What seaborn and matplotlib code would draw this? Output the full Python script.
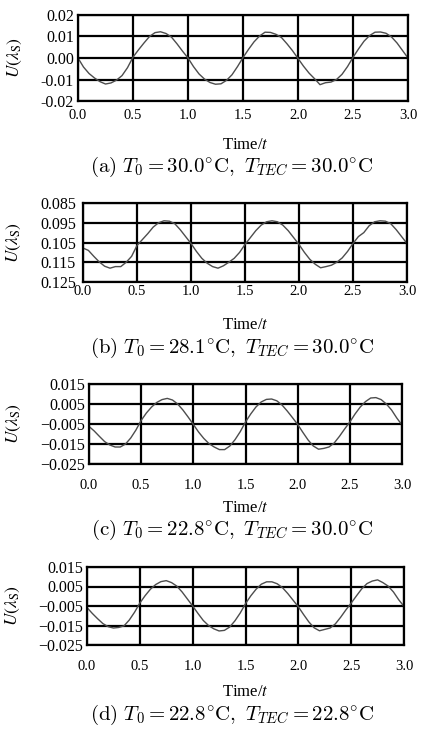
import matplotlib
matplotlib.use("Agg")
import matplotlib.pyplot as plt
import seaborn as sns
import pandas as pd

# ---------------- data ----------------
time = [0.00, 0.05, 0.10, 0.15, 0.20, 0.25, 0.30, 0.35, 0.40, 0.45,
        0.50, 0.55, 0.60, 0.65, 0.70, 0.75, 0.80, 0.85, 0.90, 0.95,
        1.00, 1.05, 1.10, 1.15, 1.20, 1.25, 1.30, 1.35, 1.40, 1.45,
        1.50, 1.55, 1.60, 1.65, 1.70, 1.75, 1.80, 1.85, 1.90, 1.95,
        2.00, 2.05, 2.10, 2.15, 2.20, 2.25, 2.30, 2.35, 2.40, 2.45,
        2.50, 2.55, 2.60, 2.65, 2.70, 2.75, 2.80, 2.85, 2.90, 2.95,
        3.00]

u_a = [0.0000, -0.0042, -0.0072, -0.0093, -0.0110, -0.0121, -0.0116, -0.0103, -0.0082, -0.0045,
       0.0004, 0.0038, 0.0070, 0.0100, 0.0118, 0.0122, 0.0114, 0.0097, 0.0066, 0.0032,
       0.0000, -0.0040, -0.0074, -0.0098, -0.0114, -0.0122, -0.0120, -0.0104, -0.0078, -0.0040,
       0.0002, 0.0040, 0.0075, 0.0102, 0.0120, 0.0119, 0.0110, 0.0095, 0.0066, 0.0034,
       -0.0002, -0.0038, -0.0070, -0.0096, -0.0124, -0.0115, -0.0112, -0.0100, -0.0076, -0.0040,
       0.0003, 0.0042, 0.0078, 0.0104, 0.0120, 0.0121, 0.0115, 0.0098, 0.0070, 0.0035,
       0.0000]

u_b = [0.1078, 0.1090, 0.1120, 0.1148, 0.1170, 0.1180, 0.1172, 0.1172, 0.1150, 0.1120,
       0.1065, 0.1035, 0.1005, 0.0972, 0.0950, 0.0940, 0.0942, 0.0955, 0.0985, 0.1020,
       0.1055, 0.1095, 0.1130, 0.1155, 0.1172, 0.1180, 0.1168, 0.1150, 0.1130, 0.1100,
       0.1060, 0.1025, 0.0990, 0.0962, 0.0945, 0.0940, 0.0945, 0.0962, 0.0990, 0.1025,
       0.1060, 0.1100, 0.1135, 0.1160, 0.1178, 0.1172, 0.1165, 0.1150, 0.1128, 0.1095,
       0.1055, 0.1020, 0.1000, 0.0965, 0.0945, 0.0940, 0.0942, 0.0955, 0.0985, 0.1020,
       0.1055]

u_c = [-0.0062, -0.0085, -0.0112, -0.0138, -0.0155, -0.0165, -0.0165, -0.0150, -0.0120, -0.0080,
       -0.0032, 0.0005, 0.0035, 0.0058, 0.0072, 0.0078, 0.0070, 0.0050, 0.0020, -0.0015,
       -0.0052, -0.0090, -0.0122, -0.0148, -0.0165, -0.0178, -0.0178, -0.0160, -0.0128, -0.0088,
       -0.0040, 0.0000, 0.0035, 0.0060, 0.0073, 0.0075, 0.0066, 0.0045, 0.0015, -0.0018,
       -0.0052, -0.0092, -0.0130, -0.0160, -0.0176, -0.0172, -0.0165, -0.0145, -0.0112, -0.0075,
       -0.0040, 0.0000, 0.0035, 0.0062, 0.0080, 0.0082, 0.0072, 0.0050, 0.0020, -0.0020,
       -0.0055]

u_d = [-0.0058, -0.0088, -0.0115, -0.0140, -0.0156, -0.0163, -0.0160, -0.0152, -0.0122, -0.0082,
       -0.0035, 0.0003, 0.0036, 0.0060, 0.0075, 0.0080, 0.0070, 0.0052, 0.0022, -0.0014,
       -0.0050, -0.0088, -0.0124, -0.0150, -0.0167, -0.0178, -0.0175, -0.0158, -0.0126, -0.0086,
       -0.0038, 0.0002, 0.0036, 0.0062, 0.0074, 0.0074, 0.0064, 0.0044, 0.0014, -0.0020,
       -0.0054, -0.0094, -0.0132, -0.0162, -0.0177, -0.0170, -0.0163, -0.0142, -0.0108, -0.0070,
       -0.0035, 0.0002, 0.0038, 0.0065, 0.0078, 0.0084, 0.0070, 0.0052, 0.0022, -0.0018,
       -0.0052]

x_ticks = [0.0, 0.5, 1.0, 1.5, 2.0, 2.5, 3.0]
x_tick_labels = ["0.0", "0.5", "1.0", "1.5", "2.0", "2.5", "3.0"]

y_ticks_a = [0.02, 0.01, 0.00, -0.01, -0.02]
y_labels_a = ["0.02", "0.01", "0.00", "-0.01", "-0.02"]
y_ticks_b = [0.085, 0.095, 0.105, 0.115, 0.125]
y_labels_b = ["0.085", "0.095", "0.105", "0.115", "0.125"]
y_ticks_cd = [0.015, 0.005, -0.005, -0.015, -0.025]
y_labels_cd = ["0.015", "0.005", "\u22120.005", "\u22120.015", "\u22120.025"]

captions = [
    r"$\mathrm{(a)}\ T_0 = 30.0^{\circ}\mathrm{C},\ T_{TEC} = 30.0^{\circ}\mathrm{C}$",
    r"$\mathrm{(b)}\ T_0 = 28.1^{\circ}\mathrm{C},\ T_{TEC} = 30.0^{\circ}\mathrm{C}$",
    r"$\mathrm{(c)}\ T_0 = 22.8^{\circ}\mathrm{C},\ T_{TEC} = 30.0^{\circ}\mathrm{C}$",
    r"$\mathrm{(d)}\ T_0 = 22.8^{\circ}\mathrm{C},\ T_{TEC} = 22.8^{\circ}\mathrm{C}$",
]

# ---------------- style ----------------
sns.set_theme(style="white")
plt.rcParams["font.family"] = ["Liberation Serif", "DejaVu Serif"]
plt.rcParams["axes.unicode_minus"] = True

W, H = 422, 737
fig = plt.figure(figsize=(W / 100, H / 100), dpi=100)
fig.patch.set_facecolor("white")

# panel boxes in pixels: left, right, top, bottom
boxes = [(78, 408, 15, 101), (83, 407, 203, 282), (89, 402, 384, 464), (87, 404, 567, 645)]
series = [u_a, u_b, u_c, u_d]
yticks = [y_ticks_a, y_ticks_b, y_ticks_cd, y_ticks_cd]
ylabels = [y_labels_a, y_labels_b, y_labels_cd, y_labels_cd]
xpads = [6, 2.5, 11, 11]
ypads = [3, 5, 3, 3]
xlabel_y = [145, 325, 508, 692]
caption_y = [167, 348, 530, 715]
ylabel_x = [15, 14, 14, 13]

for i in range(4):
    l, r, t, b = boxes[i]
    ax = fig.add_axes([l / W, 1 - b / H, (r - l) / W, (b - t) / H])
    df = pd.DataFrame({"t": time, "u": series[i]})
    sns.lineplot(data=df, x="t", y="u", ax=ax, color="#4d4d4d", linewidth=1.0)
    ax.set_xlim(0, 3.0)
    yt = yticks[i]
    ax.set_ylim(yt[-1], yt[0])  # top value first in list
    ax.set_xticks(x_ticks)
    ax.set_xticklabels(x_tick_labels)
    ax.set_yticks(yt)
    ax.set_yticklabels(ylabels[i])
    ax.grid(True, color="black", linewidth=1.6)
    ax.set_axisbelow(True)
    for sp in ax.spines.values():
        sp.set_color("black")
        sp.set_linewidth(1.6)
        sp.set_visible(True)
    ax.tick_params(axis="x", length=0, pad=xpads[i], labelsize=10.5, colors="black")
    ax.tick_params(axis="y", length=0, pad=ypads[i], labelsize=11.5, colors="black")
    ax.set_xlabel("")
    ax.set_ylabel("")
    fig.text(ylabel_x[i] / W, 1 - ((t + b) / 2) / H, r"$U(\lambda_\mathrm{S})$",
             rotation=90, ha="center", va="center", fontsize=12.5,
             math_fontfamily="stix", color="black")
    fig.text(245 / W, 1 - xlabel_y[i] / H, r"Time/$t$", ha="center", va="center",
             fontsize=12, math_fontfamily="stix", color="black")
    fig.text(232 / W, 1 - caption_y[i] / H, captions[i], ha="center", va="center",
             fontsize=15, math_fontfamily="cm", color="black")

fig.savefig("out.png", dpi=100, facecolor="white")
